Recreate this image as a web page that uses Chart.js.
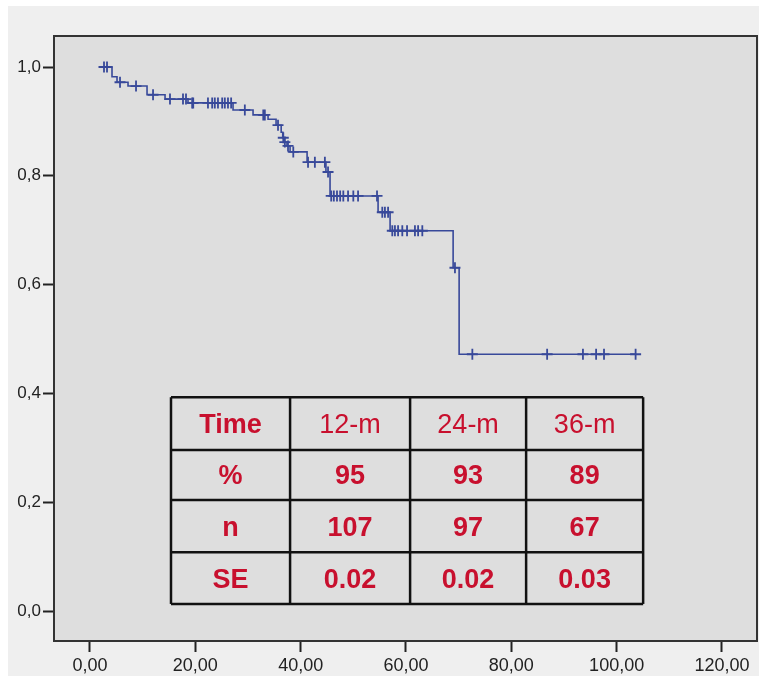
<!DOCTYPE html>
<html>
<head>
<meta charset="utf-8">
<script src="https://cdn.jsdelivr.net/npm/chart.js@4/dist/chart.umd.min.js"></script>
<style>
  html, body { margin: 0; padding: 0; background: #ffffff; }
  #wrap {
    position: absolute;
    left: 8px;
    top: 6px;
    width: 751px;
    height: 670px;
    background: #efefef;
  }
</style>
</head>
<body>
<div id="wrap"><canvas id="km"></canvas></div>
<script>
// Kaplan-Meier curve: step times (months) and survival after each step
const eventTimes = [2.28, 4.18, 5.13, 7.22, 10.83, 14.25, 18.61, 27.16, 30.96, 33.81, 35.33, 36.3, 36.6, 36.9, 37.4, 37.99, 41.22, 44.8, 45.58, 54.70, 56.98, 68.95, 70.09, 103.6]
const survival = [1.0, 0.982, 0.972, 0.965, 0.949, 0.941, 0.934, 0.921, 0.912, 0.904, 0.893, 0.880, 0.870, 0.862, 0.855, 0.844, 0.825, 0.807, 0.763, 0.733, 0.699, 0.631, 0.472, 0.472]

// Censored observations (months)
const censorTimes = [2.66, 3.23, 5.70, 8.74, 11.97, 15.19, 17.66, 18.23, 19.4, 19.6, 22.4, 23.2, 23.7, 24.3, 25.1, 25.6, 26.2, 26.8, 29.4, 32.9, 33.2, 35.7, 36.7, 37.0, 37.6, 38.6, 41.4, 42.7, 44.6, 45.2, 45.8, 46.3, 46.9, 47.5, 48.1, 49.0, 50.0, 50.9, 54.5, 55.5, 56.0, 56.6, 57.4, 57.9, 58.5, 59.3, 60.2, 61.7, 62.3, 63.1, 69.3, 72.6, 86.8, 93.6, 96.1, 97.6, 103.6]

// Axis ticks
const xTicks = [0, 20, 40, 60, 80, 100, 120]
const yTicks = [0, 0.2, 0.4, 0.6, 0.8, 1.0]

// Summary table
const tableHeader = ['Time', '12-m', '24-m', '36-m']
const rowLabels = ['%', 'n', 'SE']
const pctValues = ['95', '93', '89']
const nValues = ['107', '97', '67']
const seValues = ['0.02', '0.02', '0.03']

const lineColor = '#38499a'
const tableColor = '#c8102e'
const plotBg = '#dedede'

// survival level at time t (last step at or before t)
function levelAt(t) {
  let s = survival[0]
  for (let i = 0; i < eventTimes.length; i++) {
    if (eventTimes[i] <= t) s = survival[i]
  }
  return s
}

const curve = eventTimes.map((t, i) => ({ x: t, y: survival[i] }))
const censored = censorTimes.map(t => ({ x: t, y: levelAt(t) }))

function comma(v, digits) {
  return v.toFixed(digits).replace('.', ',')
}

// plot background + frame
const frame = {
  id: 'frame',
  beforeDatasetsDraw(chart) {
    const a = chart.chartArea
    const ctx = chart.ctx
    ctx.save()
    ctx.fillStyle = plotBg
    ctx.fillRect(a.left, a.top, a.right - a.left, a.bottom - a.top)
    ctx.restore()
  },
  afterDraw(chart) {
    const a = chart.chartArea
    const ctx = chart.ctx
    ctx.save()
    ctx.strokeStyle = '#333333'
    ctx.lineWidth = 2
    ctx.strokeRect(a.left, a.top, a.right - a.left, a.bottom - a.top)
    ctx.restore()
  }
}

// table box sits in data coordinates
const colEdges = [15.38, 37.99, 60.78, 82.81, 105.03]
const rowEdges = [0.393, 0.296, 0.204, 0.108, 0.013]

const tablePlugin = {
  id: 'table',
  afterDatasetsDraw(chart) {
    const xs = chart.scales.x
    const ys = chart.scales.y
    const ctx = chart.ctx
    const cx = colEdges.map(v => xs.getPixelForValue(v))
    const cy = rowEdges.map(v => ys.getPixelForValue(v))
    const rows = [tableHeader, [rowLabels[0]].concat(pctValues), [rowLabels[1]].concat(nValues), [rowLabels[2]].concat(seValues)]

    ctx.save()
    ctx.fillStyle = plotBg
    ctx.fillRect(cx[0], cy[0], cx[4] - cx[0], cy[4] - cy[0])

    ctx.strokeStyle = '#111111'
    ctx.lineWidth = 2.5
    for (const x of cx) {
      ctx.beginPath(); ctx.moveTo(x, cy[0]); ctx.lineTo(x, cy[4]); ctx.stroke()
    }
    for (const y of cy) {
      ctx.beginPath(); ctx.moveTo(cx[0], y); ctx.lineTo(cx[4], y); ctx.stroke()
    }

    ctx.fillStyle = tableColor
    ctx.textAlign = 'center'
    ctx.textBaseline = 'middle'
    rows.forEach((row, r) => {
      row.forEach((txt, c) => {
        const bold = !(r === 0 && c > 0)
        ctx.font = (bold ? 'bold ' : '') + '27px "Liberation Sans", Arial, sans-serif'
        ctx.fillText(txt, (cx[c] + cx[c + 1]) / 2, (cy[r] + cy[r + 1]) / 2 + 2)
      })
    })
    ctx.restore()
  }
}

Chart.defaults.font.family = '"Liberation Sans", Arial, sans-serif'

new Chart(document.getElementById('km'), {
  type: 'scatter',
  data: {
    datasets: [
      {
        label: 'Survival',
        data: curve,
        showLine: true,
        stepped: 'before',
        borderColor: lineColor,
        borderWidth: 1.6,
        pointRadius: 0,
        fill: false
      },
      {
        label: 'Censored',
        data: censored,
        showLine: false,
        pointStyle: 'cross',
        pointRadius: 5.5,
        borderColor: lineColor,
        borderWidth: 1.8,
        backgroundColor: lineColor
      }
    ]
  },
  options: {
    responsive: true,
    maintainAspectRatio: false,
    animation: false,
    layout: { autoPadding: false, padding: { top: 30, right: 2, left: 0, bottom: 0 } },
    plugins: {
      legend: { display: false },
      tooltip: { enabled: false }
    },
    scales: {
      x: {
        type: 'linear',
        min: -6.835,
        max: 126.65,
        afterBuildTicks: scale => { scale.ticks = xTicks.map(v => ({ value: v })) },
        afterFit: scale => { scale.height = 35; scale.paddingLeft = 0; scale.paddingRight = 0 },
        border: { display: false },
        grid: { drawOnChartArea: false, drawTicks: true, tickLength: 11, tickColor: '#222222', tickWidth: 2 },
        ticks: {
          color: '#222222',
          font: { size: 18 },
          padding: 3,
          maxRotation: 0,
          callback: v => comma(v, 2)
        }
      },
      y: {
        type: 'linear',
        min: -0.0551,
        max: 1.057,
        afterBuildTicks: scale => { scale.ticks = yTicks.map(v => ({ value: v })) },
        afterFit: scale => { scale.width = 46; scale.paddingTop = 0; scale.paddingBottom = 0 },
        border: { display: false },
        grid: { drawOnChartArea: false, drawTicks: true, tickLength: 11, tickColor: '#222222', tickWidth: 2 },
        ticks: {
          color: '#222222',
          font: { size: 17 },
          padding: 2,
          callback: v => comma(v, 1)
        }
      }
    }
  },
  plugins: [frame, tablePlugin]
})
</script>
</body>
</html>
